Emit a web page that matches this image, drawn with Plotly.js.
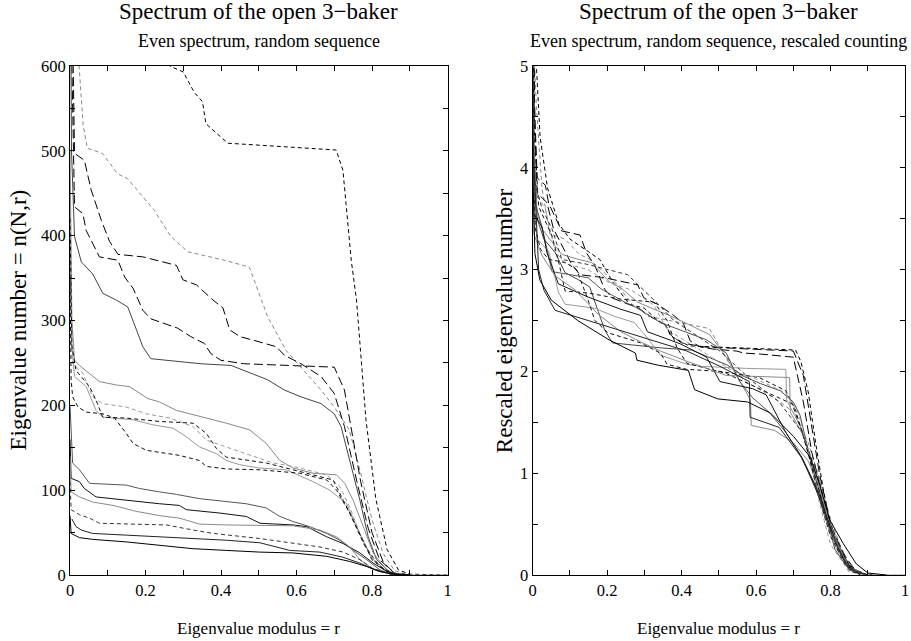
<!DOCTYPE html>
<html>
<head>
<meta charset="utf-8">
<script src="https://cdn.plot.ly/plotly-3.0.1.min.js"></script>
<style>html,body{margin:0;padding:0;background:#fff;}#plot{width:911px;height:641px;}</style>
</head>
<body>
<div id="plot"></div>
<script>
// ---------- Left panel: n(N,r) ----------
const L1_r = [0, 0.1, 0.2, 0.264, 0.30, 0.329, 0.351, 0.36, 0.418, 0.55, 0.705, 0.723, 0.745, 0.759, 0.784, 0.81, 0.84, 0.87, 0.9, 1.0];
const L1_n = [1500, 900, 680, 600, 593, 569, 558, 532, 509, 505, 501, 477, 371, 324, 183, 90, 30, 6, 1, 0];
const L2_r = [0, 0.015, 0.024, 0.035, 0.046, 0.086, 0.126, 0.153, 0.223, 0.267, 0.312, 0.409, 0.475, 0.524, 0.572, 0.611, 0.665, 0.70, 0.74, 0.77, 0.80, 0.83, 0.86, 0.9, 1.0];
const L2_n = [1500, 700, 600, 530, 503, 497, 473, 467, 430, 399, 381, 371, 363, 304, 265, 245, 218, 198, 171, 120, 65, 25, 5, 0, 0];
const A_r = [0, 0.005, 0.012, 0.038, 0.056, 0.083, 0.105, 0.127, 0.193, 0.282, 0.299, 0.335, 0.379, 0.405, 0.423, 0.45, 0.484, 0.547, 0.568, 0.612, 0.665, 0.70, 0.727, 0.76, 0.79, 0.82, 0.86, 0.9];
const A_n = [1200, 700, 497, 489, 454, 418, 393, 378, 375, 365, 348, 342, 324, 315, 289, 281, 277, 269, 259, 249, 234, 214, 175, 110, 55, 18, 2, 0];
const B_r = [0, 0.005, 0.012, 0.034, 0.043, 0.06, 0.078, 0.127, 0.145, 0.167, 0.193, 0.214, 0.259, 0.285, 0.32, 0.356, 0.373, 0.40, 0.462, 0.70, 0.727, 0.745, 0.77, 0.80, 0.83, 0.86, 0.9];
const B_n = [1000, 600, 434, 426, 406, 391, 375, 371, 351, 338, 312, 302, 295, 291, 281, 273, 261, 253, 249, 245, 218, 171, 110, 50, 15, 2, 0];
const L5_r = [0, 0.004, 0.012, 0.03, 0.06, 0.087, 0.123, 0.153, 0.176, 0.193, 0.214, 0.347, 0.427, 0.48, 0.524, 0.568, 0.612, 0.665, 0.70, 0.718, 0.741, 0.768, 0.79, 0.812, 0.85, 0.9];
const L5_n = [800, 500, 399, 369, 355, 332, 324, 316, 289, 269, 255, 249, 247, 238, 230, 218, 210, 202, 190, 175, 135, 88, 45, 18, 2, 0];
const G1_r = [0, 0.005, 0.012, 0.025, 0.078, 0.123, 0.158, 0.206, 0.237, 0.282, 0.326, 0.361, 0.414, 0.476, 0.52, 0.556, 0.591, 0.644, 0.706, 0.728, 0.75, 0.777, 0.803, 0.84, 0.88];
const G1_n = [500, 300, 253, 247, 228, 224, 222, 208, 204, 194, 189, 185, 179, 171, 155, 135, 126, 120, 118, 108, 88, 57, 26, 5, 0];
const G2_r = [0, 0.005, 0.012, 0.043, 0.069, 0.087, 0.167, 0.22, 0.273, 0.308, 0.343, 0.388, 0.414, 0.45, 0.503, 0.573, 0.644, 0.688, 0.733, 0.768, 0.80, 0.84, 0.88];
const G2_n = [400, 270, 234, 222, 194, 186, 183, 177, 173, 163, 151, 143, 135, 130, 126, 124, 110, 100, 84, 49, 20, 4, 0];
const G3_r = [0, 0.003, 0.007, 0.034, 0.06, 0.087, 0.149, 0.202, 0.264, 0.326, 0.361, 0.414, 0.467, 0.538, 0.591, 0.644, 0.68, 0.715, 0.741, 0.768, 0.80, 0.85, 0.9, 1.0];
const G3_n = [450, 280, 249, 238, 210, 202, 198, 190, 185, 175, 159, 151, 143, 132, 128, 122, 118, 104, 80, 49, 18, 2, 0, 0];
const D1_r = [0, 0.005, 0.016, 0.052, 0.069, 0.087, 0.149, 0.237, 0.326, 0.361, 0.388, 0.414, 0.52, 0.591, 0.662, 0.697, 0.724, 0.741, 0.78, 0.82, 0.86, 0.9];
const D1_n = [420, 270, 241, 222, 206, 186, 185, 181, 179, 167, 149, 139, 132, 124, 116, 112, 88, 73, 35, 10, 1, 0];
const D2_r = [0, 0.003, 0.007, 0.021, 0.043, 0.087, 0.118, 0.149, 0.167, 0.202, 0.29, 0.343, 0.361, 0.414, 0.503, 0.608, 0.68, 0.706, 0.741, 0.77, 0.80, 0.84, 0.88];
const D2_n = [350, 230, 210, 198, 192, 190, 185, 167, 155, 147, 141, 135, 128, 125, 124, 120, 112, 100, 73, 45, 18, 4, 0];
const S1_r = [0, 0.007, 0.025, 0.052, 0.149, 0.184, 0.237, 0.282, 0.343, 0.388, 0.467, 0.52, 0.556, 0.591, 0.635, 0.68, 0.715, 0.75, 0.786, 0.821, 0.85, 0.9];
const S1_n = [200, 132, 124, 108, 106, 102, 98, 95, 90, 88, 84, 79, 69, 63, 57, 49, 41, 29, 18, 6, 1, 0];
const S2_r = [0, 0.003, 0.025, 0.038, 0.069, 0.149, 0.237, 0.29, 0.308, 0.397, 0.467, 0.503, 0.591, 0.627, 0.68, 0.724, 0.768, 0.803, 0.84, 0.88];
const S2_n = [160, 114, 110, 102, 92, 88, 84, 82, 77, 73, 69, 61, 59, 57, 45, 37, 26, 14, 4, 0];
const S3_r = [0, 0.003, 0.025, 0.06, 0.114, 0.176, 0.237, 0.29, 0.343, 0.414, 0.591, 0.662, 0.706, 0.741, 0.768, 0.80, 0.85, 0.9];
const S3_n = [140, 98, 92, 86, 82, 75, 70, 67, 60, 59, 58, 53, 45, 33, 18, 8, 1, 0];
const DL_r = [0, 0.003, 0.025, 0.052, 0.078, 0.149, 0.255, 0.326, 0.379, 0.503, 0.591, 0.662, 0.724, 0.768, 0.80, 0.85, 0.9];
const DL_n = [110, 77, 71, 67, 61, 60, 59, 53, 49, 43, 37, 33, 27, 18, 8, 1, 0];
const S4_r = [0.005, 0.016, 0.03, 0.06, 0.149, 0.237, 0.326, 0.414, 0.503, 0.582, 0.662, 0.723, 0.768, 0.808, 0.85, 0.9];
const S4_n = [66, 57, 53, 49, 47, 45, 43, 41, 38, 29, 27, 21, 14, 6, 1, 0];
const S5_r = [0, 0.003, 0.025, 0.06, 0.149, 0.237, 0.326, 0.414, 0.503, 0.591, 0.68, 0.741, 0.786, 0.821, 0.86, 0.9];
const S5_n = [70, 49, 44, 42, 39, 35, 31, 29, 27, 26, 22, 16, 10, 4, 1, 0];

// ---------- Right panel: rescaled counting ----------
const RL1_r = [0, 0.01, 0.02, 0.04, 0.07, 0.1, 0.14, 0.18, 0.22, 0.26, 0.3, 0.33, 0.36, 0.37, 0.42, 0.55, 0.706, 0.72, 0.74, 0.76, 0.78, 0.80, 0.82, 0.85, 0.88, 0.92];
const RL1_v = [6, 5.0, 4.3, 3.8, 3.45, 3.3, 3.2, 3.1, 2.85, 2.66, 2.62, 2.52, 2.44, 2.35, 2.25, 2.23, 2.21, 2.1, 1.8, 1.3, 0.85, 0.5, 0.3, 0.1, 0.02, 0];
const RL2_r = [0, 0.01, 0.025, 0.046, 0.086, 0.126, 0.153, 0.223, 0.267, 0.312, 0.409, 0.475, 0.524, 0.572, 0.611, 0.665, 0.70, 0.74, 0.77, 0.80, 0.83, 0.86, 0.9, 1.0];
const RL2_v = [5.5, 4.6, 3.8, 3.35, 3.3, 3.15, 3.1, 2.87, 2.66, 2.54, 2.47, 2.42, 2.1, 1.9, 1.82, 1.7, 1.6, 1.3, 0.95, 0.55, 0.25, 0.06, 0, 0];
const RA_r = [0, 0.006, 0.012, 0.038, 0.056, 0.083, 0.105, 0.127, 0.193, 0.282, 0.299, 0.335, 0.379, 0.405, 0.423, 0.45, 0.484, 0.547, 0.568, 0.612, 0.665, 0.70, 0.727, 0.75, 0.78, 0.81, 0.84, 0.87, 0.9];
const RA_v = [6, 4.4, 3.75, 3.66, 3.4, 3.2, 3.05, 2.95, 2.92, 2.85, 2.72, 2.66, 2.55, 2.47, 2.3, 2.24, 2.22, 2.2, 2.18, 2.17, 2.15, 2.14, 1.7, 1.2, 0.75, 0.4, 0.18, 0.03, 0];
const RB_r = [0, 0.005, 0.012, 0.034, 0.043, 0.06, 0.078, 0.127, 0.145, 0.167, 0.193, 0.214, 0.259, 0.285, 0.32, 0.356, 0.373, 0.40, 0.462, 0.70, 0.727, 0.745, 0.77, 0.80, 0.83, 0.86, 0.9];
const RB_v = [6, 4.6, 3.9, 3.83, 3.65, 3.52, 3.38, 3.34, 3.16, 3.04, 2.81, 2.72, 2.66, 2.62, 2.53, 2.46, 2.35, 2.28, 2.24, 2.2, 1.96, 1.54, 1.0, 0.5, 0.22, 0.04, 0];
const RL5_r = [0, 0.004, 0.012, 0.03, 0.06, 0.087, 0.123, 0.153, 0.176, 0.193, 0.214, 0.347, 0.427, 0.48, 0.524, 0.568, 0.612, 0.665, 0.70, 0.718, 0.741, 0.768, 0.79, 0.812, 0.85, 0.9];
const RL5_v = [5.5, 4.2, 3.5, 3.3, 3.17, 2.97, 2.9, 2.83, 2.59, 2.41, 2.28, 2.23, 2.21, 2.13, 2.06, 1.95, 1.88, 1.81, 1.7, 1.57, 1.21, 0.85, 0.55, 0.25, 0.05, 0];
const RG1_r = [0, 0.005, 0.012, 0.025, 0.078, 0.123, 0.158, 0.206, 0.237, 0.282, 0.326, 0.361, 0.414, 0.476, 0.52, 0.55, 0.585, 0.587, 0.65, 0.70, 0.74, 0.77, 0.80, 0.84, 0.88];
const RG1_v = [4.8, 3.9, 3.55, 3.4, 3.15, 3.1, 3.07, 2.88, 2.82, 2.68, 2.61, 2.56, 2.47, 2.36, 2.14, 1.95, 1.72, 1.47, 1.42, 1.3, 1.12, 0.85, 0.45, 0.1, 0];
const RG2_r = [0, 0.005, 0.012, 0.043, 0.069, 0.087, 0.167, 0.22, 0.273, 0.308, 0.343, 0.388, 0.414, 0.45, 0.503, 0.573, 0.68, 0.682, 0.72, 0.75, 0.78, 0.81, 0.85, 0.88];
const RG2_v = [4.4, 3.6, 3.3, 3.18, 2.78, 2.66, 2.62, 2.54, 2.48, 2.33, 2.16, 2.1, 2.07, 2.05, 2.04, 2.03, 2.02, 1.72, 1.45, 1.1, 0.62, 0.3, 0.05, 0];
const RG3_r = [0, 0.003, 0.007, 0.034, 0.06, 0.087, 0.149, 0.202, 0.264, 0.326, 0.361, 0.414, 0.467, 0.538, 0.591, 0.644, 0.68, 0.715, 0.741, 0.768, 0.80, 0.85, 0.9, 1.0];
const RG3_v = [5.5, 4.3, 3.75, 3.6, 3.18, 3.06, 3.0, 2.88, 2.8, 2.65, 2.41, 2.29, 2.17, 2.0, 1.94, 1.85, 1.79, 1.58, 1.21, 0.74, 0.3, 0.03, 0, 0];
const RD1_r = [0, 0.005, 0.016, 0.052, 0.069, 0.087, 0.149, 0.237, 0.326, 0.361, 0.388, 0.414, 0.52, 0.591, 0.662, 0.697, 0.724, 0.741, 0.78, 0.82, 0.86, 0.9];
const RD1_v = [5.8, 4.3, 3.62, 3.33, 3.09, 2.79, 2.77, 2.71, 2.68, 2.5, 2.23, 2.08, 1.98, 1.86, 1.74, 1.68, 1.4, 1.18, 0.7, 0.25, 0.03, 0];
const RD2_r = [0, 0.003, 0.007, 0.021, 0.043, 0.087, 0.118, 0.149, 0.167, 0.202, 0.29, 0.343, 0.361, 0.414, 0.503, 0.608, 0.68, 0.706, 0.72, 0.741, 0.77, 0.80, 0.84, 0.88];
const RD2_v = [5.2, 3.9, 3.4, 3.2, 3.1, 3.07, 3.0, 2.7, 2.5, 2.38, 2.28, 2.18, 2.07, 2.02, 2.0, 1.94, 1.81, 1.62, 1.45, 1.18, 0.75, 0.38, 0.1, 0];
const RS1_r = [0, 0.007, 0.025, 0.052, 0.149, 0.184, 0.237, 0.282, 0.343, 0.388, 0.467, 0.52, 0.556, 0.591, 0.635, 0.68, 0.715, 0.75, 0.786, 0.821, 0.85, 0.9];
const RS1_v = [4.4, 3.65, 3.42, 2.98, 2.92, 2.81, 2.7, 2.62, 2.48, 2.42, 2.31, 2.18, 1.9, 1.74, 1.6, 1.4, 1.2, 0.95, 0.6, 0.25, 0.05, 0];
const RS2_r = [0, 0.003, 0.025, 0.038, 0.069, 0.149, 0.237, 0.29, 0.308, 0.397, 0.467, 0.503, 0.591, 0.627, 0.68, 0.724, 0.768, 0.803, 0.84, 0.88];
const RS2_v = [4.8, 3.55, 3.42, 3.17, 2.86, 2.73, 2.61, 2.55, 2.39, 2.27, 2.14, 1.9, 1.83, 1.77, 1.4, 1.15, 0.81, 0.44, 0.12, 0];
const RS3_r = [0, 0.003, 0.025, 0.06, 0.114, 0.176, 0.237, 0.29, 0.343, 0.414, 0.52, 0.69, 0.692, 0.73, 0.76, 0.79, 0.82, 0.85, 0.9];
const RS3_v = [4.5, 3.35, 3.14, 2.94, 2.8, 2.56, 2.39, 2.29, 2.2, 2.1, 1.96, 1.94, 1.6, 1.35, 1.0, 0.6, 0.3, 0.06, 0];
const RDL_r = [0, 0.003, 0.025, 0.052, 0.078, 0.149, 0.255, 0.326, 0.379, 0.503, 0.591, 0.662, 0.724, 0.768, 0.80, 0.85, 0.9];
const RDL_v = [5.3, 3.9, 3.6, 3.4, 3.1, 3.05, 2.95, 2.7, 2.5, 2.2, 1.9, 1.7, 1.4, 0.95, 0.5, 0.08, 0];
const RS4_r = [0, 0.016, 0.03, 0.06, 0.149, 0.237, 0.326, 0.414, 0.503, 0.582, 0.584, 0.662, 0.723, 0.768, 0.808, 0.85, 0.9];
const RS4_v = [4.3, 3.0, 2.8, 2.6, 2.5, 2.4, 2.3, 2.2, 2.05, 1.9, 1.55, 1.45, 1.15, 0.78, 0.35, 0.06, 0];
const RS5_r = [0, 0.006, 0.019, 0.05, 0.121, 0.205, 0.276, 0.28, 0.338, 0.418, 0.435, 0.497, 0.577, 0.639, 0.701, 0.745, 0.772, 0.798, 0.834, 0.869, 0.9, 0.95];
const RS5_v = [4.0, 3.16, 2.9, 2.7, 2.5, 2.31, 2.18, 2.11, 2.06, 2.01, 1.82, 1.73, 1.70, 1.59, 1.36, 1.16, 0.87, 0.54, 0.31, 0.11, 0.02, 0];

const xTickVals = [0, 0.2, 0.4, 0.6, 0.8, 1];
const xTickText = ["0", "0.2", "0.4", "0.6", "0.8", "1"];
const titleText = "Spectrum of the open 3\u2212baker";
const subLeft = "Even spectrum, random sequence";
const subRight = "Even spectrum, random sequence, rescaled counting";
const xTitle = "Eigenvalue modulus = r";
const yTitleLeft = "Eigenvalue number = n(N,r)";
const yTitleRight = "Rescaled eigenvalue number";

// styles
const SHORT = "4px,3px", LONG = "9px,4px";
const sty = {
  L1: {color: "#000", dash: SHORT},
  L2: {color: "#888", dash: SHORT},
  A:  {color: "#000", dash: LONG},
  B:  {color: "#000", dash: LONG},
  L5: {color: "#444", dash: "solid"},
  G1: {color: "#888", dash: "solid"},
  G2: {color: "#999", dash: "solid"},
  G3: {color: "#999", dash: SHORT},
  D1: {color: "#111", dash: SHORT},
  D2: {color: "#111", dash: SHORT},
  S1: {color: "#555", dash: "solid"},
  S2: {color: "#111", dash: "solid"},
  S3: {color: "#888", dash: "solid"},
  DL: {color: "#333", dash: SHORT},
  S4: {color: "#222", dash: "solid"},
  S5: {color: "#000", dash: "solid"}
};

const leftSeries = [
  ["L1", L1_r, L1_n], ["L2", L2_r, L2_n], ["A", A_r, A_n], ["B", B_r, B_n],
  ["L5", L5_r, L5_n], ["G1", G1_r, G1_n], ["G2", G2_r, G2_n], ["G3", G3_r, G3_n],
  ["D1", D1_r, D1_n], ["D2", D2_r, D2_n], ["S1", S1_r, S1_n], ["S2", S2_r, S2_n],
  ["S3", S3_r, S3_n], ["DL", DL_r, DL_n], ["S4", S4_r, S4_n], ["S5", S5_r, S5_n]
];
const rightSeries = [
  ["L1", RL1_r, RL1_v], ["L2", RL2_r, RL2_v], ["A", RA_r, RA_v], ["B", RB_r, RB_v],
  ["L5", RL5_r, RL5_v], ["G1", RG1_r, RG1_v], ["G2", RG2_r, RG2_v], ["G3", RG3_r, RG3_v],
  ["D1", RD1_r, RD1_v], ["D2", RD2_r, RD2_v], ["S1", RS1_r, RS1_v], ["S2", RS2_r, RS2_v],
  ["S3", RS3_r, RS3_v], ["DL", RDL_r, RDL_v], ["S4", RS4_r, RS4_v], ["S5", RS5_r, RS5_v]
];

const traces = [];
leftSeries.forEach(([k, x, y]) => traces.push({
  x: x, y: y, type: "scatter", mode: "lines", xaxis: "x", yaxis: "y",
  line: {color: sty[k].color, dash: sty[k].dash, width: 1}, showlegend: false, hoverinfo: "skip"
}));
rightSeries.forEach(([k, x, y]) => traces.push({
  x: x, y: y, type: "scatter", mode: "lines", xaxis: "x2", yaxis: "y2",
  line: {color: sty[k].color, dash: sty[k].dash, width: 1}, showlegend: false, hoverinfo: "skip"
}));

const FONT = "Liberation Serif, Times New Roman, serif";
function axisBase(extra) {
  return Object.assign({
    showline: true, linecolor: "#000", linewidth: 1, mirror: "ticks",
    ticks: "inside", ticklen: 5, tickwidth: 1, tickcolor: "#000",
    showgrid: false, zeroline: false, fixedrange: true,
    tickfont: {family: FONT, size: 16.5, color: "#000"}
  }, extra);
}
const minorX = {dtick: 0.1, ticks: "inside", ticklen: 5, tickwidth: 1, tickcolor: "#000", showgrid: false};

const layout = {
  width: 911, height: 641,
  margin: {l: 70, r: 6, t: 66, b: 66},
  paper_bgcolor: "#fff", plot_bgcolor: "#fff",
  font: {family: FONT, color: "#000"},
  showlegend: false,
  xaxis: axisBase({domain: [0, 0.4521], range: [0, 1], tickvals: xTickVals, ticktext: xTickText, minor: minorX, anchor: "y"}),
  yaxis: axisBase({domain: [0, 1], range: [0, 600], dtick: 100, minor: {dtick: 50, ticks: "inside", ticklen: 5, tickwidth: 1, tickcolor: "#000", showgrid: false}, anchor: "x"}),
  xaxis2: axisBase({domain: [0.5541, 1], range: [0, 1], tickvals: xTickVals, ticktext: xTickText, ticklabeloverflow: "allow", minor: minorX, anchor: "y2"}),
  yaxis2: axisBase({domain: [0, 1], range: [0, 5], dtick: 1, minor: {dtick: 0.5, ticks: "inside", ticklen: 5, tickwidth: 1, tickcolor: "#000", showgrid: false}, anchor: "x2"}),
  annotations: [
    {text: titleText, xref: "x domain", yref: "paper", x: 0.5, y: 1, yanchor: "middle", yshift: 55, showarrow: false, font: {family: FONT, size: 23}},
    {text: subLeft, xref: "x domain", yref: "paper", x: 0.5, y: 1, yanchor: "middle", yshift: 25, showarrow: false, font: {family: FONT, size: 18}},
    {text: titleText, xref: "x2 domain", yref: "paper", x: 0.5, y: 1, yanchor: "middle", yshift: 55, showarrow: false, font: {family: FONT, size: 23}},
    {text: subRight, xref: "x2 domain", yref: "paper", x: 0.5, y: 1, yanchor: "middle", yshift: 25, showarrow: false, font: {family: FONT, size: 18}},
    {text: xTitle, xref: "x domain", yref: "paper", x: 0.5, y: 0, yanchor: "middle", yshift: -53, showarrow: false, font: {family: FONT, size: 17}},
    {text: xTitle, xref: "x2 domain", yref: "paper", x: 0.5, y: 0, yanchor: "middle", yshift: -53, showarrow: false, font: {family: FONT, size: 17}},
    {text: yTitleLeft, xref: "x domain", yref: "paper", x: 0, y: 0.5, xanchor: "center", yanchor: "middle", xshift: -52, textangle: -90, showarrow: false, font: {family: FONT, size: 23}},
    {text: yTitleRight, xref: "x2 domain", yref: "paper", x: 0, y: 0.5, xanchor: "center", yanchor: "middle", xshift: -28, textangle: -90, showarrow: false, font: {family: FONT, size: 23}}
  ]
};

Plotly.newPlot("plot", traces, layout, {displayModeBar: false, staticPlot: true});
</script>
</body>
</html>
